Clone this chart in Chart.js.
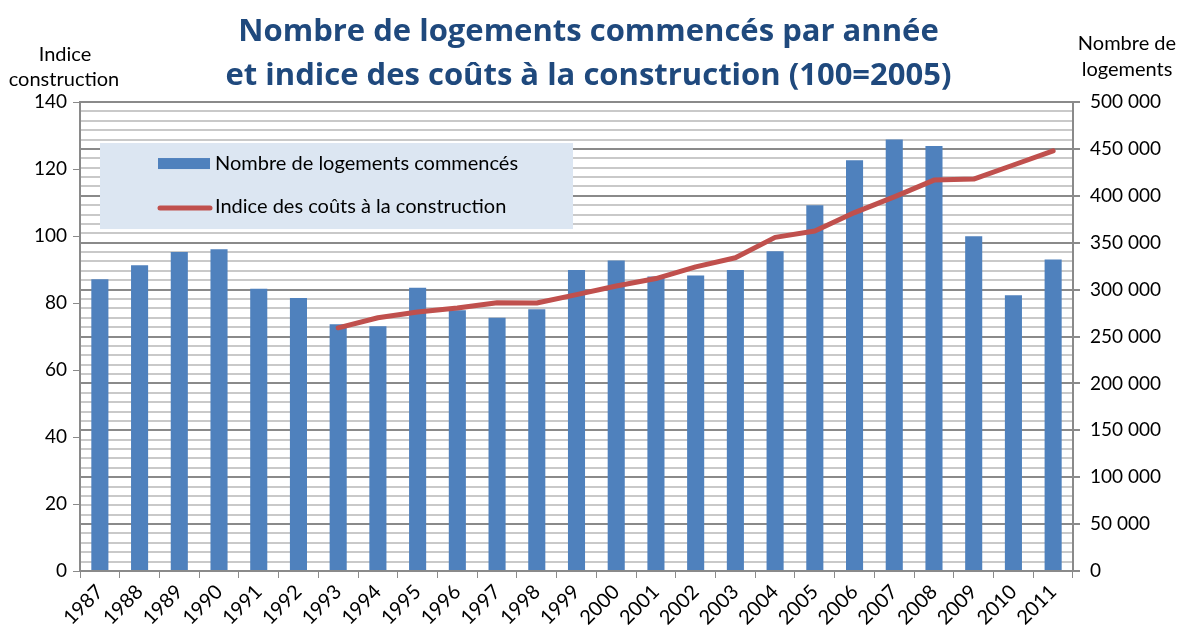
<!DOCTYPE html>
<html>
<head>
<meta charset="utf-8">
<script src="https://cdn.jsdelivr.net/npm/chart.js@4"></script>
<style>
  html, body { margin: 0; padding: 0; background: #fff; }
  #wrap { width: 1177px; height: 628px; }
</style>
</head>
<body>
<div id="wrap"><canvas id="myChart" width="1177" height="628"></canvas></div>
<script>
// données
const annees = ['1987', '1988', '1989', '1990', '1991', '1992', '1993', '1994', '1995', '1996', '1997', '1998', '1999',
    '2000', '2001', '2002', '2003', '2004', '2005', '2006', '2007', '2008', '2009', '2010', '2011'];
const logements = [311000, 326000, 340000, 343000, 301000, 291000, 263000, 261000, 302000, 278000, 270000, 279000, 321000,
    331000, 314000, 315000, 321000, 341000, 390000, 438000, 460000, 453000, 357000, 294000, 332000];
const indice = [null, null, null, null, null, null, 72.6, 75.6, 77.3, 78.5, 80.1, 80.0, 82.5,
    85.1, 87.3, 90.8, 93.5, 99.6, 101.5, 107.0, 111.7, 116.7, 117.0, 121.2, 125.4];
const titre = ['Nombre de logements commencés par année', 'et indice des coûts à la construction (100=2005)'];
const titreGauche = ['Indice', 'construction'];
const titreDroite = ['Nombre de', 'logements'];

const police = 'Lato';
const gris = '#8a8a8a';

const formatNombre = (v) => String(v).replace(/\B(?=(\d{3})+(?!\d))/g, ' ');

// légende dans la zone du graphique + titres des axes
const decor = {
    id: 'decor',
    afterDraw(chart) {
        const c = chart.ctx;
        const area = chart.chartArea;
        c.save();
        c.fillStyle = '#000';
        c.font = `20px ${police}`;
        c.textAlign = 'center';
        c.textBaseline = 'middle';
        c.fillText(titreGauche[0], area.left - 15, area.top - 47);
        c.fillText(titreGauche[1], area.left - 16, area.top - 22);
        c.fillText(titreDroite[0], area.right + 54, area.top - 58);
        c.fillText(titreDroite[1], area.right + 54, area.top - 32);

        const x0 = area.left + 20, y0 = area.top + 41;
        c.fillStyle = '#dce6f2';
        c.fillRect(x0, y0, 473, 86);
        const ds = chart.data.datasets;
        c.textAlign = 'left';
        c.font = `20px ${police}`;
        // barres
        c.fillStyle = ds[0].backgroundColor;
        c.fillRect(x0 + 58, y0 + 15, 52, 11);
        c.fillStyle = '#000';
        c.fillText(ds[0].label, x0 + 115, y0 + 21);
        // ligne
        c.strokeStyle = ds[1].borderColor;
        c.lineWidth = 5;
        c.lineCap = 'round';
        c.beginPath();
        c.moveTo(x0 + 60, y0 + 65);
        c.lineTo(x0 + 110, y0 + 65);
        c.stroke();
        c.fillText(ds[1].label, x0 + 115, y0 + 64);
        c.restore();
    }
};

const ctx = document.getElementById('myChart');

const config = {
    data: {
        labels: annees,
        datasets: [
            {
                type: 'bar',
                label: 'Nombre de logements commencés',
                data: logements,
                yAxisID: 'y1',
                backgroundColor: '#4f81bd',
                borderWidth: 0,
                barPercentage: 0.43,
                categoryPercentage: 1,
                order: 2
            },
            {
                type: 'line',
                label: 'Indice des coûts à la construction',
                data: indice,
                yAxisID: 'y',
                borderColor: '#c0504d',
                backgroundColor: '#c0504d',
                borderWidth: 5,
                borderCapStyle: 'round',
                borderJoinStyle: 'round',
                pointRadius: 0,
                tension: 0,
                order: 1
            }
        ]
    },
    options: {
        responsive: false,
        animation: false,
        layout: { padding: 0 },
        plugins: {
            legend: { display: false },
            tooltip: { enabled: false },
            title: {
                display: true,
                text: titre,
                color: '#1f497d',
                font: { family: 'Open Sans', size: 31, weight: 'bold', lineHeight: 1.42 },
                padding: { top: 10, bottom: 4 }
            }
        },
        scales: {
            x: {
                grid: { drawOnChartArea: false, drawTicks: true, tickLength: 7, color: gris, offset: true },
                border: { color: gris, width: 2 },
                ticks: { color: '#000', font: { family: police, size: 20 }, minRotation: 45, maxRotation: 45, padding: 2, autoSkip: false },
                afterFit: (s) => { s.height = 57; }
            },
            y: {
                position: 'left',
                min: 0,
                max: 140,
                ticks: { stepSize: 20, color: '#000', font: { family: police, size: 19 }, padding: 6 },
                grid: { drawOnChartArea: false, drawTicks: true, tickLength: 7, color: gris },
                border: { color: gris, width: 2 },
                afterFit: (s) => { s.width = 80; }
            },
            y1: {
                position: 'right',
                min: 0,
                max: 500000,
                ticks: {
                    stepSize: 10000,
                    autoSkip: false,
                    color: '#000',
                    font: { family: police, size: 19 },
                    padding: 10,
                    callback: (v) => (v % 50000 === 0 ? formatNombre(v) : '')
                },
                grid: {
                    drawOnChartArea: true,
                    drawTicks: true,
                    tickLength: 7,
                    lineWidth: 2,
                    color: (c) => (c.tick && c.tick.value % 50000 === 0 ? gris : '#c9c9c9'),
                    tickColor: (c) => (c.tick && c.tick.value % 50000 === 0 ? gris : 'rgba(0,0,0,0)')
                },
                border: { color: gris, width: 2 },
                afterFit: (s) => { s.width = 104; }
            }
        }
    },
    plugins: [decor]
};

const graph = new Chart(ctx, config);
</script>
</body>
</html>
